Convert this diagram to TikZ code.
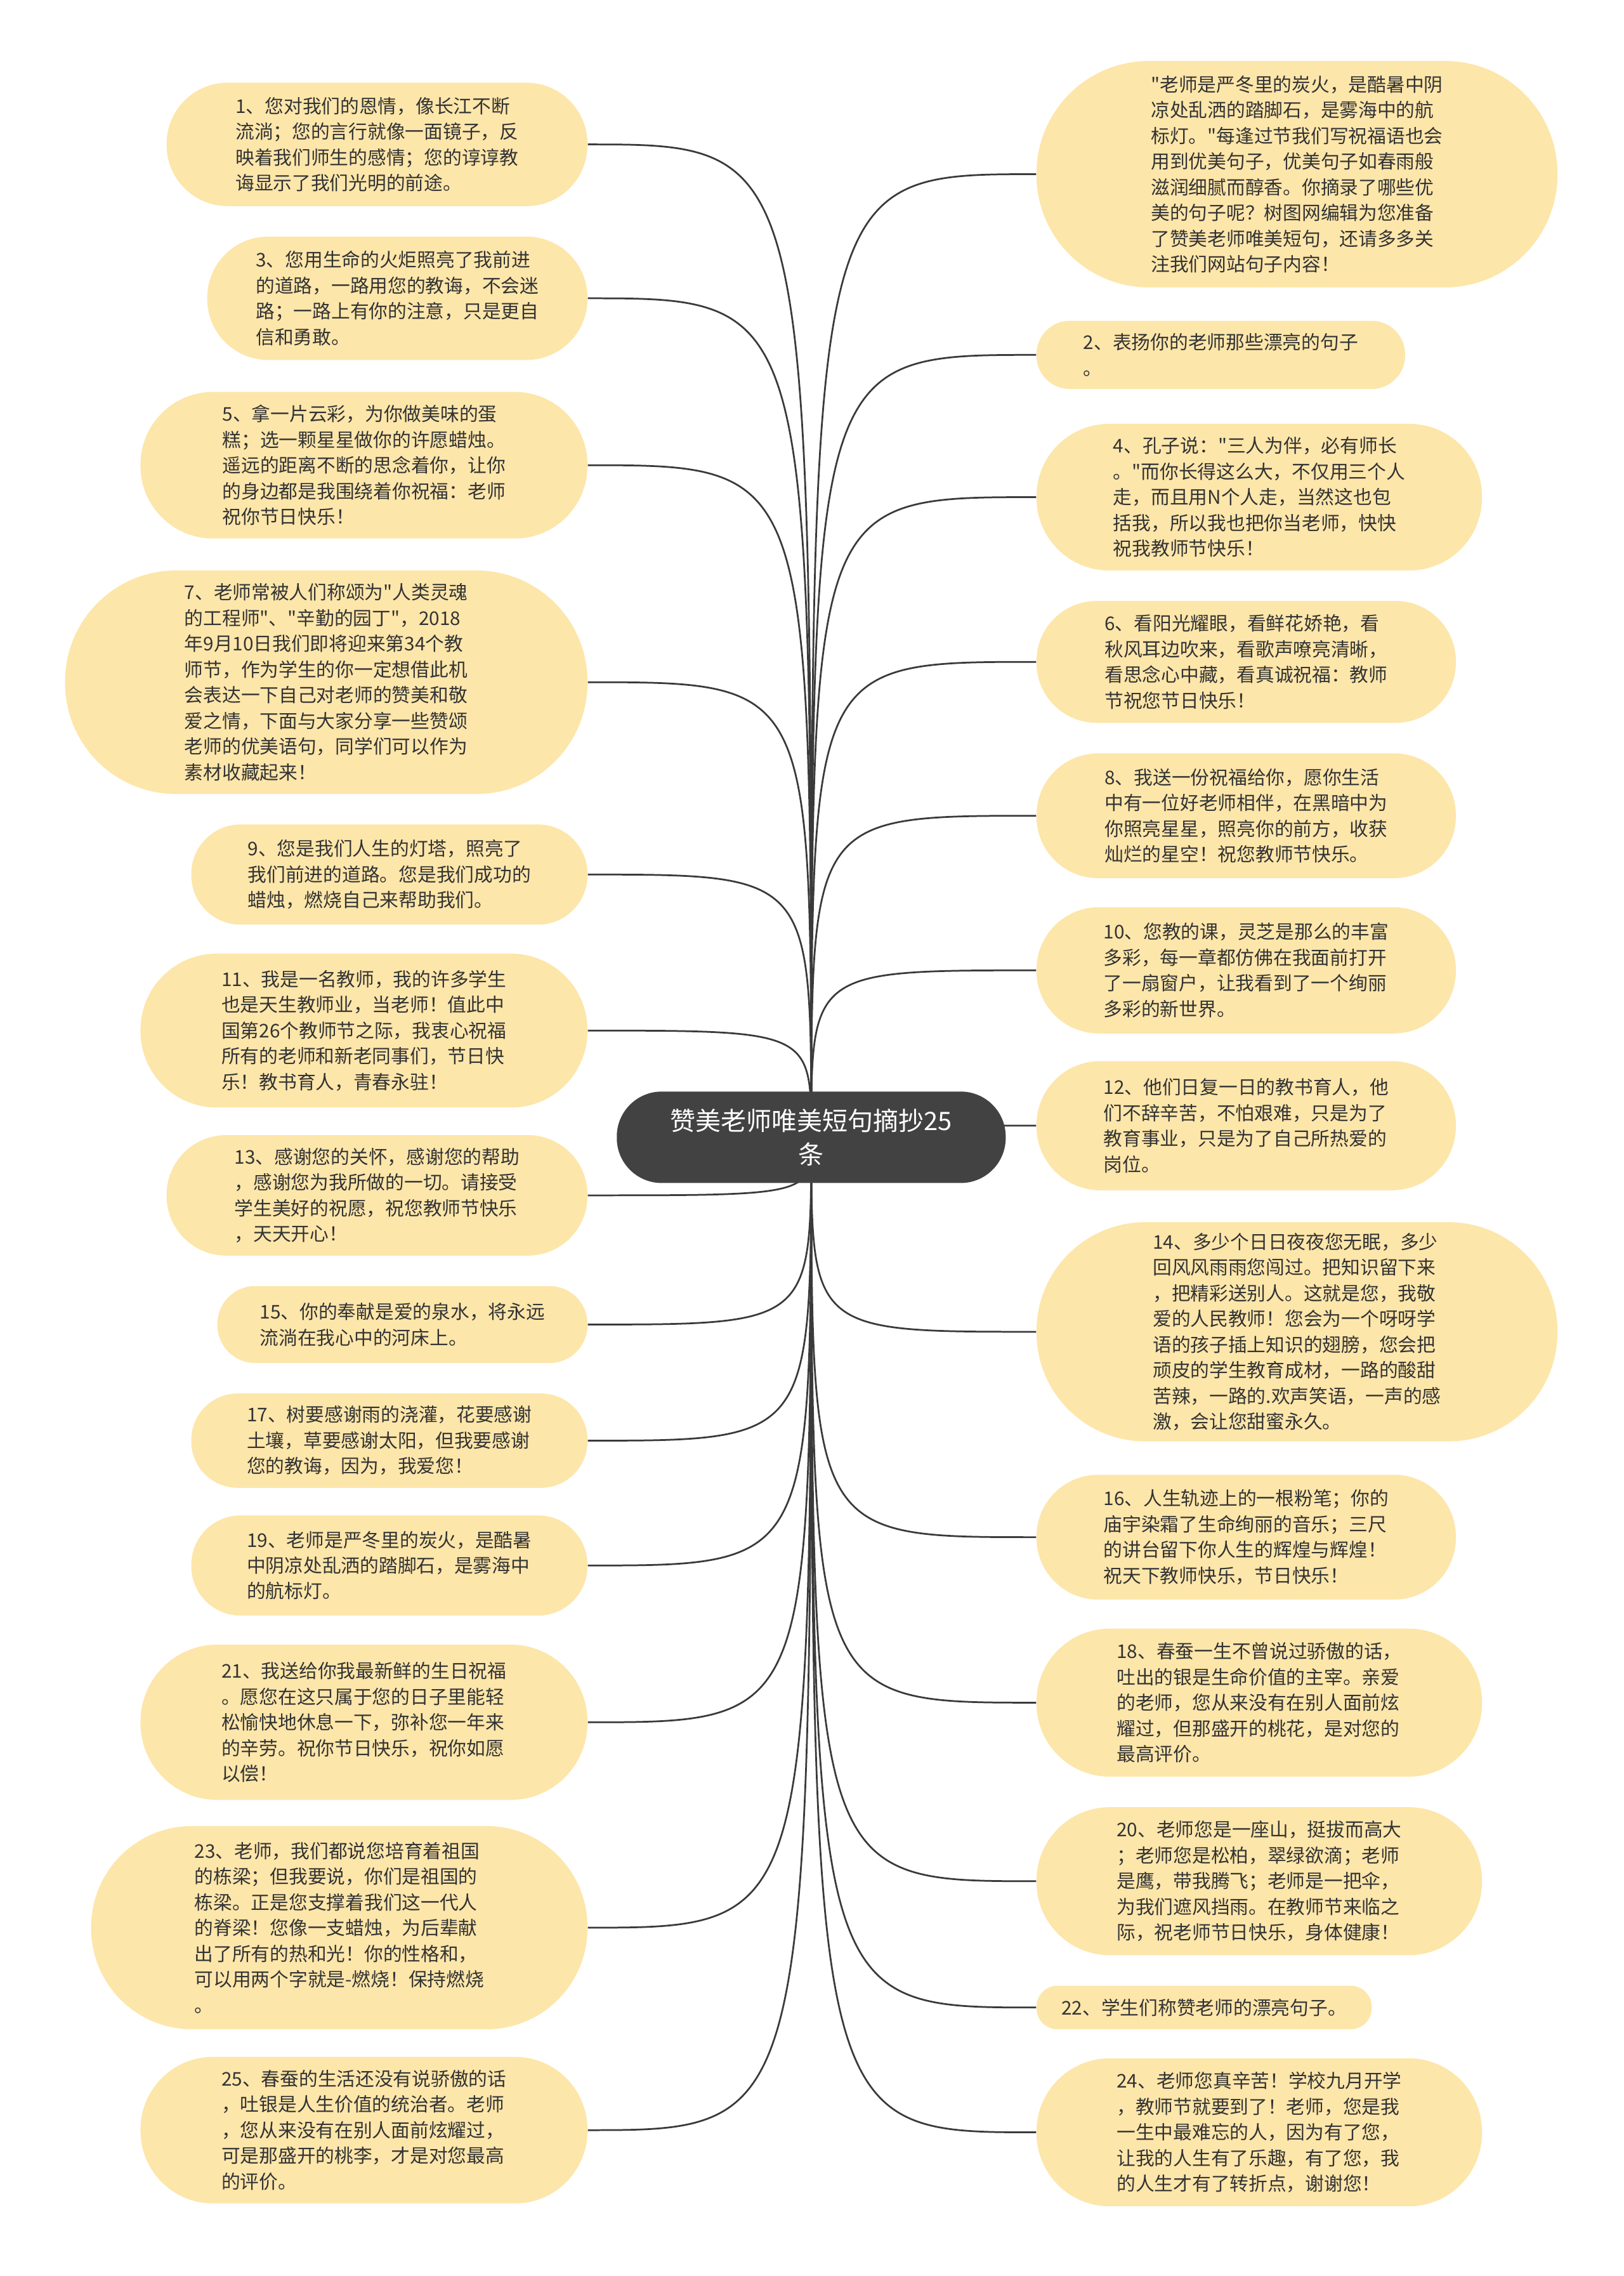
\documentclass[tikz,border=0pt]{standalone}
\usepackage{fontspec}
\setmainfont{Noto Sans CJK SC}[Ligatures=TeXOff]
\usepackage{xcolor}
\usepackage{tikz}
\usetikzlibrary{backgrounds}

\definecolor{leafbg}{HTML}{FDE6AA}
\definecolor{rootbg}{HTML}{424242}
\definecolor{inkdark}{HTML}{333333}
\definecolor{linkgray}{HTML}{3A3A3A}

\begin{document}
\begin{tikzpicture}[x=1pt, y=-1pt,
		leaf/.style={fill=leafbg, text=inkdark, align=left, inner sep=0pt, minimum height=#1, rounded corners=#1/2-0.5, font=\fontsize{13}{17.7}\selectfont},
		root/.style={fill=rootbg, text=white, align=center, inner sep=0pt, minimum width=268, minimum height=63, rounded corners=31, font=\fontsize{17.5}{23}\selectfont},
		link/.style={draw=linkgray, line width=1.2pt}]
		\useasboundingbox (0,0) rectangle (1119,1568);

		\node (root) [root] at (559,783.5) {赞美老师唯美短句摘抄25\\条};

		\node (l1) [leaf=85, minimum width=290, anchor=east] at (405,99.5) {1、您对我们的恩情，像长江不断\\流淌；您的言行就像一面镜子，反\\映着我们师生的感情；您的谆谆教\\诲显示了我们光明的前途。};
		\node (l3) [leaf=85, minimum width=262, anchor=east] at (405,205.5) {3、您用生命的火炬照亮了我前进\\的道路，一路用您的教诲，不会迷\\路；一路上有你的注意，只是更自\\信和勇敢。};
		\node (l5) [leaf=101, minimum width=308, anchor=east] at (405,320.5) {5、拿一片云彩，为你做美味的蛋\\糕；选一颗星星做你的许愿蜡烛。\\遥远的距离不断的思念着你，让你\\的身边都是我围绕着你祝福：老师\\祝你节日快乐！};
		\node (l7) [leaf=154, minimum width=360, anchor=east] at (405,470) {7、老师常被人们称颂为"人类灵魂\\的工程师"、"辛勤的园丁"，2018\\年9月10日我们即将迎来第34个教\\师节，作为学生的你一定想借此机\\会表达一下自己对老师的赞美和敬\\爱之情，下面与大家分享一些赞颂\\老师的优美语句，同学们可以作为\\素材收藏起来！};
		\node (l9) [leaf=69, minimum width=273, anchor=east] at (405,602.5) {9、您是我们人生的灯塔，照亮了\\我们前进的道路。您是我们成功的\\蜡烛，燃烧自己来帮助我们。};
		\node (l11) [leaf=106, minimum width=308, anchor=east] at (405,710) {11、我是一名教师，我的许多学生\\也是天生教师业，当老师！值此中\\国第26个教师节之际，我衷心祝福\\所有的老师和新老同事们，节日快\\乐！教书育人，青春永驻！};
		\node (l13) [leaf=83, minimum width=290, anchor=east] at (405,823.5) {13、感谢您的关怀，感谢您的帮助\\，感谢您为我所做的一切。请接受\\学生美好的祝愿，祝您教师节快乐\\，天天开心！};
		\node (l15) [leaf=53, minimum width=255, anchor=east] at (405,912.5) {15、你的奉献是爱的泉水，将永远\\流淌在我心中的河床上。};
		\node (l17) [leaf=65, minimum width=273, anchor=east] at (405,992.5) {17、树要感谢雨的浇灌，花要感谢\\土壤，草要感谢太阳，但我要感谢\\您的教诲，因为，我爱您！};
		\node (l19) [leaf=69, minimum width=273, anchor=east] at (405,1078.5) {19、老师是严冬里的炭火，是酷暑\\中阴凉处乱洒的踏脚石，是雾海中\\的航标灯。};
		\node (l21) [leaf=107, minimum width=308, anchor=east] at (405,1186.5) {21、我送给你我最新鲜的生日祝福\\。愿您在这只属于您的日子里能轻\\松愉快地休息一下，弥补您一年来\\的辛劳。祝你节日快乐，祝你如愿\\以偿！};
		\node (l23) [leaf=140, minimum width=342, anchor=east] at (405,1328) {23、老师，我们都说您培育着祖国\\的栋梁；但我要说，你们是祖国的\\栋梁。正是您支撑着我们这一代人\\的脊梁！您像一支蜡烛，为后辈献\\出了所有的热和光！你的性格和，\\可以用两个字就是-燃烧！保持燃烧\\。};
		\node (l25) [leaf=101, minimum width=308, anchor=east] at (405,1467.5) {25、春蚕的生活还没有说骄傲的话\\，吐银是人生价值的统治者。老师\\，您从来没有在别人面前炫耀过，\\可是那盛开的桃李，才是对您最高\\的评价。};

		\node (r0) [leaf=156, minimum width=359, anchor=west] at (714,120) {"老师是严冬里的炭火，是酷暑中阴\\凉处乱洒的踏脚石，是雾海中的航\\标灯。"每逢过节我们写祝福语也会\\用到优美句子，优美句子如春雨般\\滋润细腻而醇香。你摘录了哪些优\\美的句子呢？树图网编辑为您准备\\了赞美老师唯美短句，还请多多关\\注我们网站句子内容！};
		\node (r2) [leaf=47, minimum width=254, anchor=west] at (714,244.5) {2、表扬你的老师那些漂亮的句子\\。};
		\node (r4) [leaf=101, minimum width=307, anchor=west] at (714,342.5) {4、孔子说："三人为伴，必有师长\\。"而你长得这么大，不仅用三个人\\走，而且用N个人走，当然这也包\\括我，所以我也把你当老师，快快\\祝我教师节快乐！};
		\node (r6) [leaf=84, minimum width=289, anchor=west] at (714,456) {6、看阳光耀眼，看鲜花娇艳，看\\秋风耳边吹来，看歌声嘹亮清晰，\\看思念心中藏，看真诚祝福：教师\\节祝您节日快乐！};
		\node (r8) [leaf=86, minimum width=289, anchor=west] at (714,562) {8、我送一份祝福给你，愿你生活\\中有一位好老师相伴，在黑暗中为\\你照亮星星，照亮你的前方，收获\\灿烂的星空！祝您教师节快乐。};
		\node (r10) [leaf=87, minimum width=289, anchor=west] at (714,668.5) {10、您教的课，灵芝是那么的丰富\\多彩，每一章都仿佛在我面前打开\\了一扇窗户，让我看到了一个绚丽\\多彩的新世界。};
		\node (r12) [leaf=89, minimum width=289, anchor=west] at (714,775.5) {12、他们日复一日的教书育人，他\\们不辞辛苦，不怕艰难，只是为了\\教育事业，只是为了自己所热爱的\\岗位。};
		\node (r14) [leaf=151, minimum width=359, anchor=west] at (714,917.5) {14、多少个日日夜夜您无眠，多少\\回风风雨雨您闯过。把知识留下来\\，把精彩送别人。这就是您，我敬\\爱的人民教师！您会为一个呀呀学\\语的孩子插上知识的翅膀，您会把\\顽皮的学生教育成材，一路的酸甜\\苦辣，一路的.欢声笑语，一声的感\\激，会让您甜蜜永久。};
		\node (r16) [leaf=86, minimum width=289, anchor=west] at (714,1059) {16、人生轨迹上的一根粉笔；你的\\庙宇染霜了生命绚丽的音乐；三尺\\的讲台留下你人生的辉煌与辉煌！\\祝天下教师快乐，节日快乐！};
		\node (r18) [leaf=102, minimum width=307, anchor=west] at (714,1173) {18、春蚕一生不曾说过骄傲的话，\\吐出的银是生命价值的主宰。亲爱\\的老师，您从来没有在别人面前炫\\耀过，但那盛开的桃花，是对您的\\最高评价。};
		\node (r20) [leaf=102, minimum width=307, anchor=west] at (714,1296) {20、老师您是一座山，挺拔而高大\\；老师您是松柏，翠绿欲滴；老师\\是鹰，带我腾飞；老师是一把伞，\\为我们遮风挡雨。在教师节来临之\\际，祝老师节日快乐，身体健康！};
		\node (r22) [leaf=30, minimum width=231, anchor=west] at (714,1383) {22、学生们称赞老师的漂亮句子。};
		\node (r24) [leaf=102, minimum width=307, anchor=west] at (714,1469) {24、老师您真辛苦！学校九月开学\\，教师节就要到了！老师，您是我\\一生中最难忘的人，因为有了您，\\让我的人生有了乐趣，有了您，我\\的人生才有了转折点，谢谢您！};

		\begin{scope}[on background layer]
		\draw[link] (root.center) .. controls (root.center |- l1.east) .. (l1.east);
		\draw[link] (root.center) .. controls (root.center |- l3.east) .. (l3.east);
		\draw[link] (root.center) .. controls (root.center |- l5.east) .. (l5.east);
		\draw[link] (root.center) .. controls (root.center |- l7.east) .. (l7.east);
		\draw[link] (root.center) .. controls (root.center |- l9.east) .. (l9.east);
		\draw[link] (root.center) .. controls (root.center |- l11.east) .. (l11.east);
		\draw[link] (root.center) .. controls (root.center |- l13.east) .. (l13.east);
		\draw[link] (root.center) .. controls (root.center |- l15.east) .. (l15.east);
		\draw[link] (root.center) .. controls (root.center |- l17.east) .. (l17.east);
		\draw[link] (root.center) .. controls (root.center |- l19.east) .. (l19.east);
		\draw[link] (root.center) .. controls (root.center |- l21.east) .. (l21.east);
		\draw[link] (root.center) .. controls (root.center |- l23.east) .. (l23.east);
		\draw[link] (root.center) .. controls (root.center |- l25.east) .. (l25.east);
		\draw[link] (root.center) .. controls (root.center |- r0.west) .. (r0.west);
		\draw[link] (root.center) .. controls (root.center |- r2.west) .. (r2.west);
		\draw[link] (root.center) .. controls (root.center |- r4.west) .. (r4.west);
		\draw[link] (root.center) .. controls (root.center |- r6.west) .. (r6.west);
		\draw[link] (root.center) .. controls (root.center |- r8.west) .. (r8.west);
		\draw[link] (root.center) .. controls (root.center |- r10.west) .. (r10.west);
		\draw[link] (root.center) .. controls (root.center |- r12.west) .. (r12.west);
		\draw[link] (root.center) .. controls (root.center |- r14.west) .. (r14.west);
		\draw[link] (root.center) .. controls (root.center |- r16.west) .. (r16.west);
		\draw[link] (root.center) .. controls (root.center |- r18.west) .. (r18.west);
		\draw[link] (root.center) .. controls (root.center |- r20.west) .. (r20.west);
		\draw[link] (root.center) .. controls (root.center |- r22.west) .. (r22.west);
		\draw[link] (root.center) .. controls (root.center |- r24.west) .. (r24.west);
		\end{scope}
	\end{tikzpicture}
\end{document}
